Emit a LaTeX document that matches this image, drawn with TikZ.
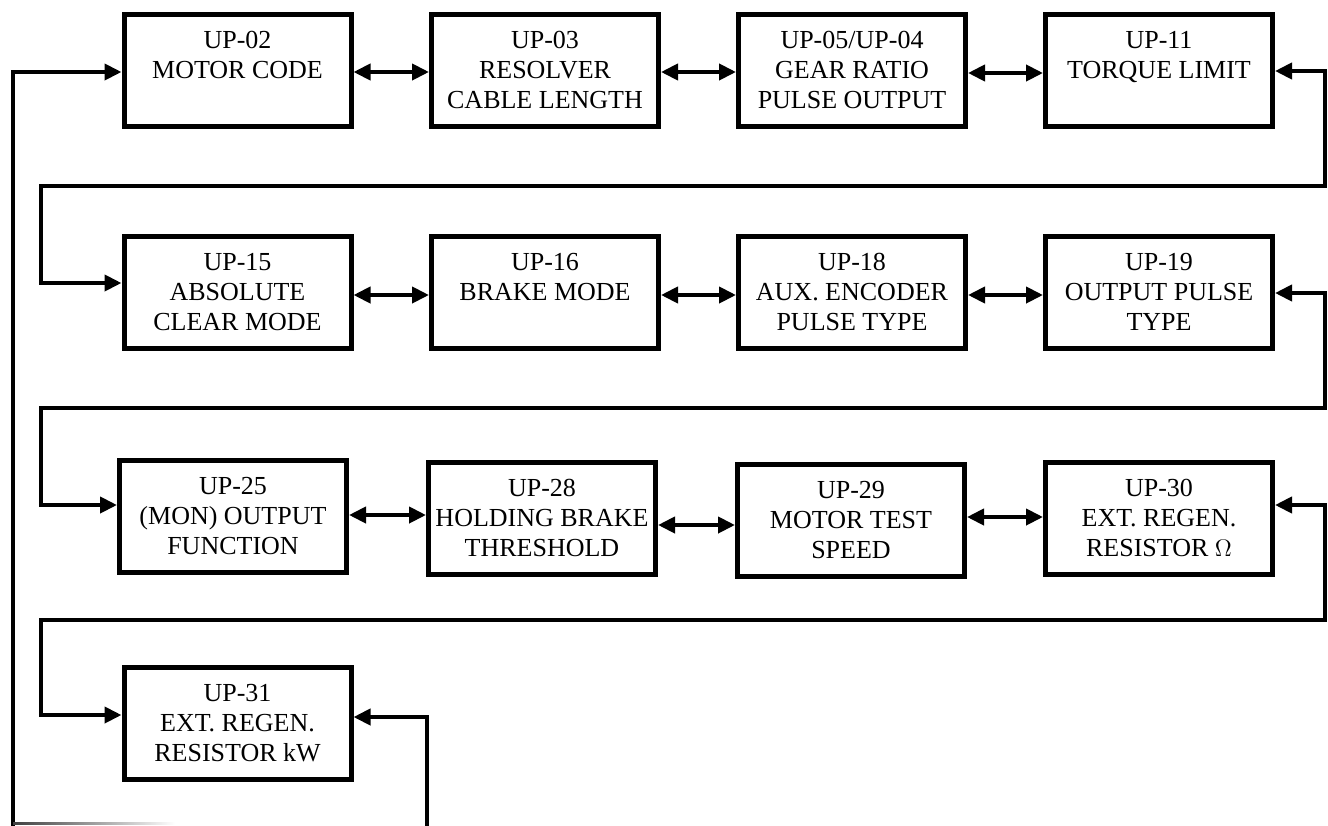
\documentclass[tikz,border=0pt]{standalone}
\usepackage{fontspec}
\setmainfont{Liberation Serif}
\usepackage{tikz}
\usetikzlibrary{arrows.meta,positioning,calc}
\definecolor{Ink}{HTML}{000000}

\begin{document}
\begin{tikzpicture}[x=0.5pt,y=-0.5pt,
    box/.style={draw=Ink,line width=2.5pt,minimum width=113.5pt,minimum height=56pt,inner sep=0pt,align=center,text=Ink,font=\fontsize{13}{15}\selectfont},
    link/.style={draw=Ink,line width=2pt,{Triangle[length=8.5pt,width=8pt]}-{Triangle[length=8.5pt,width=8pt]}}]
  \useasboundingbox (0,0) rectangle (1328,825);
  \clip (0,0) rectangle (1328,825);
  % parameter boxes
  \foreach \x/\y/\nm/\txt in {237.5/70/r1c1/{UP-02\\MOTOR CODE\\~},545/70/r1c2/{UP-03\\RESOLVER\\CABLE LENGTH},852/70/r1c3/{UP-05/UP-04\\GEAR RATIO\\PULSE OUTPUT},1159/70/r1c4/{UP-11\\TORQUE LIMIT\\~},
      237.5/292/r2c1/{UP-15\\ABSOLUTE\\CLEAR MODE},545/292/r2c2/{UP-16\\BRAKE MODE\\~},852/292/r2c3/{UP-18\\AUX. ENCODER\\PULSE TYPE},1159/292/r2c4/{UP-19\\OUTPUT PULSE\\TYPE},
      233/516/r3c1/{UP-25\\(MON) OUTPUT\\FUNCTION},542/518/r3c2/{UP-28\\HOLDING BRAKE\\THRESHOLD},851/520/r3c3/{UP-29\\MOTOR TEST\\SPEED},1159/518/r3c4/{UP-30\\EXT. REGEN.\\RESISTOR $\Omega$},
      237.5/723/r4c1/{UP-31\\EXT. REGEN.\\RESISTOR kW}}{
    \node[box] (\nm) at (\x,\y) {\txt};
  }
  % neighbours in a row
  \draw[link] (r1c1.east |- 0,72) -- (r1c2.west |- 0,72);
  \draw[link] (r1c2.east |- 0,72) -- (r1c3.west |- 0,72);
  \draw[link] (r1c3.east |- 0,73) -- (r1c4.west |- 0,73);
  \draw[link] (r2c1.east |- 0,295) -- (r2c2.west |- 0,295);
  \draw[link] (r2c2.east |- 0,295) -- (r2c3.west |- 0,295);
  \draw[link] (r2c3.east |- 0,295) -- (r2c4.west |- 0,295);
  \draw[link] (r3c1.east |- 0,515) -- (r3c2.west |- 0,515);
  \draw[link] (r3c2.east |- 0,525) -- (r3c3.west |- 0,525);
  \draw[link] (r3c3.east |- 0,517) -- (r3c4.west |- 0,517);
  % row to row
  \draw[link] (r1c4.east |- 0,71) -- (1325,71) |- (41,186) |- (r2c1.west |- 0,283);
  \draw[link] (r2c4.east |- 0,293) -- (1325,293) |- (41,408) |- (r3c1.west |- 0,505);
  \draw[link] (r3c4.east |- 0,505) -- (1325,505) |- (41,620) |- (r4c1.west |- 0,715);
  \draw[link] (r4c1.east |- 0,717) -- (427,717) -- (427,840) -| (13,72) -- (r1c1.west |- 0,72);
  \shade[left color=Ink!75,right color=white] (13,822) rectangle (175,824);
\end{tikzpicture}
\end{document}
